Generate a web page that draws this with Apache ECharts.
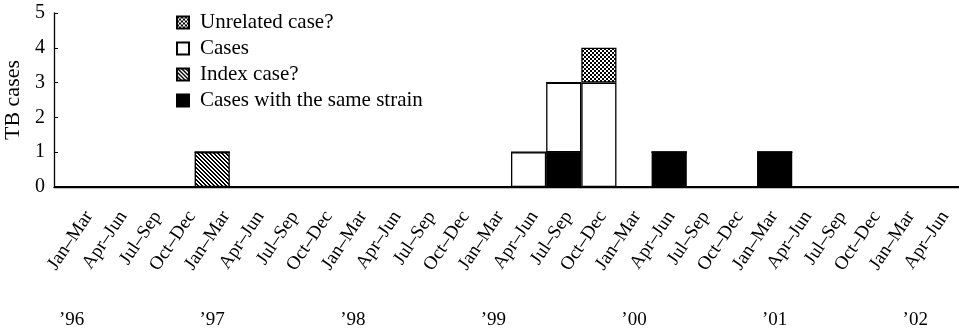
<!DOCTYPE html>
<html>
<head>
<meta charset="utf-8">
<script src="https://cdn.jsdelivr.net/npm/echarts@6/dist/echarts.min.js"></script>
<style>
  html, body { margin: 0; padding: 0; background: #fff; }
  #main { width: 959px; height: 333px; }
</style>
</head>
<body>
<div id="main"></div>
<script>
// quarters Jan-Mar '96 .. Apr-Jun '02
var quarters = [
  "Jan–Mar", "Apr–Jun", "Jul–Sep", "Oct–Dec",
  "Jan–Mar", "Apr–Jun", "Jul–Sep", "Oct–Dec",
  "Jan–Mar", "Apr–Jun", "Jul–Sep", "Oct–Dec",
  "Jan–Mar", "Apr–Jun", "Jul–Sep", "Oct–Dec",
  "Jan–Mar", "Apr–Jun", "Jul–Sep", "Oct–Dec",
  "Jan–Mar", "Apr–Jun", "Jul–Sep", "Oct–Dec",
  "Jan–Mar", "Apr–Jun"
];
var years = [
  "’96", "", "", "", "’97", "", "", "", "’98", "", "", "",
  "’99", "", "", "", "’00", "", "", "", "’01", "", "", "",
  "’02", ""
];
var sameStrain = [0,0,0,0,0,0,0,0,0,0,0,0,0,0,1,0,0,1,0,0,1,0,0,0,0,0];
var indexCase  = [0,0,0,0,1,0,0,0,0,0,0,0,0,0,0,0,0,0,0,0,0,0,0,0,0,0];
var cases      = [0,0,0,0,0,0,0,0,0,0,0,0,0,1,2,3,0,0,0,0,0,0,0,0,0,0];
var unrelated  = [0,0,0,0,0,0,0,0,0,0,0,0,0,0,0,1,0,0,0,0,0,0,0,0,0,0];
var yTicks = [0, 1, 2, 3, 4, 5];

var serif = "Liberation Serif";

// fill patterns
function makePattern(fn) {
  var c = document.createElement("canvas");
  c.width = 4; c.height = 4;
  var ctx = c.getContext("2d");
  ctx.fillStyle = "#fff";
  ctx.fillRect(0, 0, 4, 4);
  ctx.fillStyle = "#000";
  for (var x = 0; x < 4; x++) {
    for (var y = 0; y < 4; y++) {
      if (fn(x, y)) ctx.fillRect(x, y, 1, 1);
    }
  }
  return { image: c, repeat: "repeat" };
}
var hatch = makePattern(function (x, y) { var d = ((x - y) % 4 + 4) % 4; return d < 2; });
var checker = makePattern(function (x, y) { return (Math.floor(x / 2) + Math.floor(y / 2)) % 2 === 0 || (x + y) % 4 === 1; });

var chart = echarts.init(document.getElementById("main"));

function barSeries(name, data, fill) {
  return {
    name: name,
    type: "bar",
    stack: "tb",
    xAxisIndex: 0,
    yAxisIndex: 0,
    barCategoryGap: "0%",
    data: data,
    itemStyle: { color: fill, borderColor: "#000", borderWidth: 1.3 }
  };
}

var option = {
  animation: false,
  backgroundColor: "#fff",
  grid: [
    { left: 54, width: 914, top: 13, bottom: 146, outerBoundsMode: "none", containLabel: false },
    // label strip for the rotated quarter names (slightly tighter spacing, as in the print)
    { left: 89, width: 856, top: 13, bottom: 146, outerBoundsMode: "none", containLabel: false }
  ],
  legend: {
    orient: "vertical",
    left: 171,
    top: 7,
    itemWidth: 12,
    itemHeight: 12,
    itemGap: 5,
    icon: "rect",
    data: ["Unrelated case?", "Cases", "Index case?", "Cases with the same strain"],
    textStyle: { fontFamily: serif, fontSize: 21, color: "#000", padding: [0, 0, 0, 6] }
  },
  xAxis: [
    {
      type: "category",
      gridIndex: 0,
      data: quarters,
      boundaryGap: true,
      axisLine: { lineStyle: { color: "#000", width: 1.3 } },
      axisTick: { inside: true, length: 5, lineStyle: { color: "#000" } },
      axisLabel: {
        interval: 0,
        margin: 124,
        fontFamily: serif,
        fontSize: 19,
        color: "#000",
        formatter: function (v, i) { return years[i]; }
      }
    },
    {
      type: "category",
      gridIndex: 1,
      data: quarters,
      boundaryGap: false,
      axisLine: { show: false },
      axisTick: { show: false },
      axisLabel: {
        interval: 0,
        rotate: 56,
        margin: 26,
        fontFamily: serif,
        fontSize: 19,
        color: "#000"
      }
    }
  ],
  yAxis: [
    {
      type: "value",
      gridIndex: 0,
      min: yTicks[0],
      max: yTicks[yTicks.length - 1],
      interval: 1,
      name: "TB cases",
      nameLocation: "middle",
      nameGap: 30,
      nameMoveOverlap: false,
      nameTextStyle: { fontFamily: serif, fontSize: 22, color: "#000" },
      axisLine: { show: true, lineStyle: { color: "#000", width: 1.3 } },
      axisTick: { show: true, inside: true, length: 4, lineStyle: { color: "#000" } },
      axisLabel: { fontFamily: serif, fontSize: 20, color: "#000", margin: 9 },
      splitLine: { show: false }
    },
    { type: "value", gridIndex: 1, show: false }
  ],
  series: [
    barSeries("Cases with the same strain", sameStrain, "#000"),
    barSeries("Index case?", indexCase, hatch),
    barSeries("Cases", cases, "#fff"),
    barSeries("Unrelated case?", unrelated, checker)
  ]
};
chart.setOption(option);
</script>
</body>
</html>
